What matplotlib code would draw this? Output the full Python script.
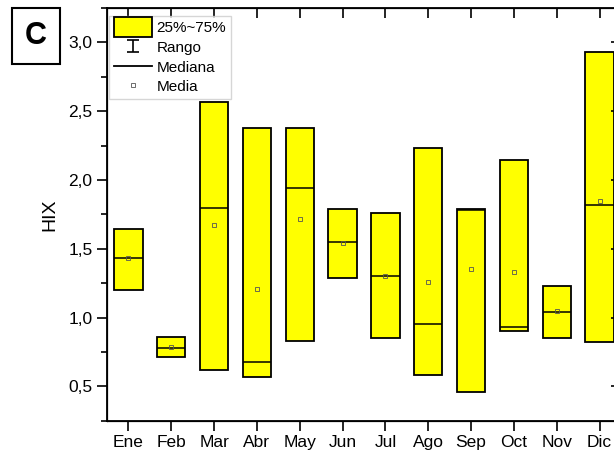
import matplotlib.pyplot as plt
from matplotlib.patches import Patch, Rectangle
from matplotlib.lines import Line2D
from matplotlib.container import ErrorbarContainer
from matplotlib.legend_handler import HandlerPatch, HandlerErrorbar
from matplotlib.ticker import FuncFormatter, MultipleLocator

plt.rcParams['font.family'] = ['Liberation Sans', 'DejaVu Sans']

# Datos HIX por mes
meses = ['Ene', 'Feb', 'Mar', 'Abr', 'May', 'Jun', 'Jul', 'Ago', 'Sep', 'Oct', 'Nov', 'Dic']
q1 = [1.20, 0.71, 0.62, 0.57, 0.83, 1.29, 0.85, 0.585, 0.46, 0.905, 0.85, 0.82]
q3 = [1.645, 0.855, 2.57, 2.38, 2.38, 1.79, 1.76, 2.23, 1.79, 2.145, 1.23, 2.93]
mediana = [1.43, 0.78, 1.80, 0.675, 1.94, 1.55, 1.30, 0.95, 1.785, 0.93, 1.04, 1.82]
media = [1.43, 0.785, 1.67, 1.21, 1.72, 1.54, 1.30, 1.26, 1.355, 1.33, 1.05, 1.85]

stats = []
for i in range(len(meses)):
    stats.append({'label': meses[i], 'q1': q1[i], 'q3': q3[i], 'med': mediana[i],
                  'mean': media[i], 'whislo': q1[i], 'whishi': q3[i], 'fliers': []})

fig = plt.figure(figsize=(6.14, 4.54), dpi=100)
# el eje derecho queda cortado, como en la imagen original
ax = fig.add_axes([0.1743, 0.0733, 0.837, 0.909])

ax.bxp(stats, positions=range(1, 13), widths=0.66, patch_artist=True,
       showcaps=False, showfliers=False, showmeans=True,
       boxprops=dict(facecolor='#ffff00', edgecolor='black', linewidth=1.3),
       medianprops=dict(color='black', linewidth=1.1),
       whiskerprops=dict(linewidth=0),
       meanprops=dict(marker='s', markersize=3.5, markerfacecolor='none',
                      markeredgecolor='#555555', markeredgewidth=0.6))

# solo para la leyenda (fuera del área visible)
eb = ax.errorbar([-5], [1.0], yerr=[0.3], fmt='none', ecolor='black', capsize=4,
                 elinewidth=1.2, capthick=1.2)

ax.set_xlim(0.5, 12.5)
ax.set_ylim(0.25, 3.25)
ax.set_xticks(range(1, 13))
ax.set_xticklabels(meses)
ax.yaxis.set_major_locator(MultipleLocator(0.5))
ax.yaxis.set_minor_locator(MultipleLocator(0.25))
ax.yaxis.set_major_formatter(FuncFormatter(lambda v, p: f'{v:.1f}'.replace('.', ',')))
ax.tick_params(axis='both', which='major', length=7, width=1.2, labelsize=12.5, direction='out')
ax.tick_params(axis='y', which='minor', length=4, width=1.2)
for s in ax.spines.values():
    s.set_linewidth(1.3)
ax.set_ylabel('HIX', fontsize=14, labelpad=7)

# ticks interiores arriba y a la derecha
axt = ax.twiny()
axt.set_xlim(ax.get_xlim())
axt.set_xticks(range(1, 13))
axt.tick_params(axis='x', direction='in', length=7, width=1.2, labeltop=False)
axr = ax.twinx()
axr.set_ylim(ax.get_ylim())
axr.yaxis.set_major_locator(MultipleLocator(0.5))
axr.tick_params(axis='y', direction='in', length=7, width=1.2, labelright=False)


def caja_alta(legend, orig_handle, xdescent, ydescent, width, height, fontsize):
    # rectángulo de la leyenda más alto que la fila
    extra = 0.22 * height
    return Rectangle((-xdescent, -ydescent - extra), width, height + 2 * extra)


handles = [Patch(facecolor='#ffff00', edgecolor='black', linewidth=1.3),
           eb,
           Line2D([], [], color='black', linewidth=1.3),
           Line2D([], [], linestyle='none', marker='s', markersize=3.5, markerfacecolor='none',
                  markeredgecolor='#555555', markeredgewidth=0.6)]
leg = axr.legend(handles, ['25%~75%', 'Rango', 'Mediana', 'Media'], loc='upper left',
                 bbox_to_anchor=(0.001, 0.985), fontsize=11, frameon=True, fancybox=False,
                 edgecolor='#cccccc', handlelength=2.5, handleheight=1.0, handletextpad=0.3,
                 labelspacing=0.3, borderpad=0.3, borderaxespad=0.1,
                 handler_map={Patch: HandlerPatch(patch_func=caja_alta),
                              ErrorbarContainer: HandlerErrorbar(xerr_size=0.4, yerr_size=0.38)})

fig.text(0.0586, 0.92, 'C', fontsize=22, fontweight='bold', ha='center', va='center',
         bbox=dict(boxstyle='square,pad=0.42', facecolor='white', edgecolor='black', linewidth=1.5))

fig.savefig('out.png', dpi=100)
